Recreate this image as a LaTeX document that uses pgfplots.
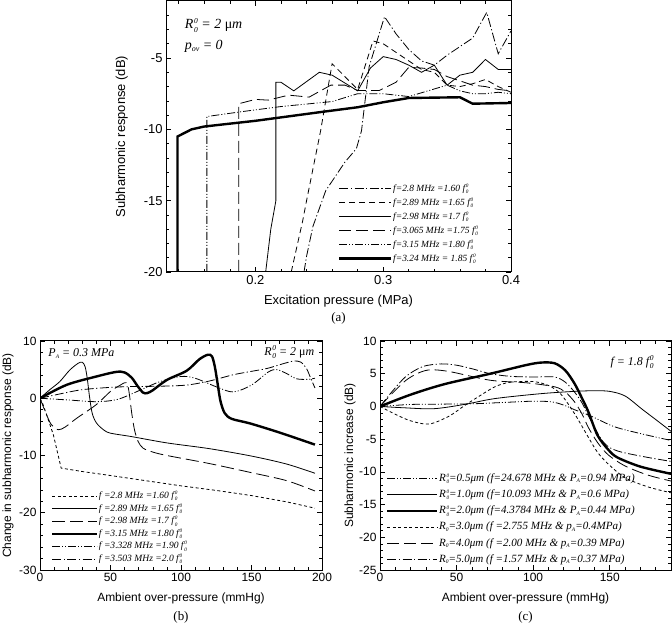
\documentclass[border=0pt]{standalone}
\usepackage{fontspec}
\setmainfont{Liberation Sans}
\newfontfamily\tnr{Liberation Serif}
\usepackage{pgfplots}
\pgfplotsset{compat=1.18}
\newcommand{\zz}{\fontsize{5.2}{6}\selectfont 0}
\newcommand{\fz}{f\kern0.8bp\rlap{\raisebox{4bp}{\zz}}\raisebox{-2.4bp}{\zz}}
\newcommand{\Rz}{R\kern0.8bp\rlap{\raisebox{4.2bp}{\zz}}\raisebox{-2.4bp}{\zz}}
\newcommand{\sub}[1]{\raisebox{-1.5bp}{\fontsize{5.5}{6}\selectfont #1}}
\newcommand{\bigz}[1]{\kern0.8bp\rlap{\raisebox{#1}{\fontsize{7.5}{8}\selectfont 0}}\raisebox{-3.2bp}{\fontsize{7.5}{8}\selectfont 0}}
\tikzset{
 dd/.style={dash pattern=on 9bp off 2.5bp on 1.2bp off 2.5bp},
 sd/.style={dash pattern=on 6bp off 4bp},
 ld/.style={dash pattern=on 12bp off 5bp},
 ddd/.style={dash pattern=on 8bp off 2bp on 1bp off 2bp on 1bp off 2bp},
 dt/.style={dash pattern=on 3bp off 2.5bp},
 thin line/.style={black, line width=0.8bp},
 thick line/.style={black, line width=2.4bp},
}
\pgfplotsset{
 myaxis/.style={
  scale only axis,
  anchor=south west,
  tick align=inside,
  axis line style={line width=1bp},
  every tick/.style={black, line width=0.6bp},
  major tick length=5bp, minor tick length=3bp,
  /pgf/number format/assume math mode=true,
  legend cell align=left,
 },
}
\begin{document}
\begin{tikzpicture}
\useasboundingbox (0,0) rectangle (672bp,626bp);
% ---------------- (a)
\begin{axis}[myaxis,
 at={(166bp,354bp)}, width=345bp, height=271bp,
 xmin=0.13, xmax=0.4, ymin=-20, ymax=-1,
 xtick={0.2,0.3,0.4},
 minor xtick={0.14,0.16,0.18,0.22,0.24,0.26,0.28,0.32,0.34,0.36,0.38},
 ytick={-20,-15,-10,-5},
 minor ytick={-19,-18,-17,-16,-14,-13,-12,-11,-9,-8,-7,-6,-4,-3,-2},
 ticklabel style={font=\fontsize{13}{15}\selectfont},
 label style={font=\fontsize{13}{15}\selectfont},
 xlabel={Excitation pressure (MPa)},
 ylabel={Subharmonic response (dB)},
 xlabel style={at={(axis description cs:0.5,-0.107)}, anchor=center},
 ylabel style={at={(axis description cs:-0.128,0.5)}, anchor=center},
 legend image code/.code={\draw[#1] (0bp,0bp) -- (52bp,0bp);},
 legend style={draw=none, fill=none, at={(0.49,0.335)}, anchor=north west,
   font=\tnr\itshape\fontsize{9.5}{11}\selectfont, row sep=3.8bp,
   nodes={inner sep=0.6bp, text height=7bp, text depth=2bp}},
]
\addplot[thin line, dd] coordinates {(0.238,-20)(0.240,-18.9)(0.245,-16.8)(0.255,-14.3)(0.27,-12.3)(0.279,-11.35)(0.283,-10.1)(0.289,-5.6)(0.301,-2.1)(0.31,-3.3)(0.32,-4.4)(0.33,-5.2)(0.34,-5.5)(0.35,-4.8)(0.36,-4.2)(0.37,-3.6)(0.381,-1.8)(0.39,-4.7)(0.40,-3.1)};
\addlegendentry{f=2.8 MHz =1.60 \fz}
\addplot[thin line, sd] coordinates {(0.228,-20)(0.237,-16.4)(0.240,-15)(0.251,-10.1)(0.255,-8.0)(0.26,-5.4)(0.28,-7.2)(0.292,-3.8)(0.30,-4.0)(0.32,-5.2)(0.33,-5.8)(0.34,-6.0)(0.35,-6.9)(0.36,-7.0)(0.37,-6.8)(0.38,-6.5)(0.39,-7.0)(0.40,-7.4)};
\addlegendentry{f=2.89 MHz =1.65 \fz}
\addplot[thin line] coordinates {(0.208,-20)(0.212,-17)(0.216,-15)(0.216,-6.7)(0.22,-6.7)(0.23,-7.3)(0.25,-6.0)(0.26,-6.2)(0.28,-7.3)(0.29,-5.7)(0.30,-4.9)(0.31,-5.1)(0.32,-5.5)(0.33,-6.0)(0.34,-5.5)(0.35,-6.9)(0.36,-6.2)(0.37,-6.0)(0.38,-5.1)(0.39,-5.8)(0.40,-5.8)};
\addlegendentry{f=2.98 MHz =1.7 \fz}
\addplot[thin line, ld] coordinates {(0.187,-20)(0.187,-8.2)(0.20,-7.9)(0.21,-7.95)(0.226,-7.6)(0.242,-7.74)(0.259,-6.9)(0.27,-6.9)(0.28,-7.27)(0.297,-7.27)(0.31,-6.7)(0.32,-5.65)(0.33,-5.7)(0.34,-5.8)(0.35,-6.3)(0.36,-6.6)(0.37,-6.9)(0.38,-7.0)(0.39,-7.2)(0.40,-7.3)};
\addlegendentry{f=3.065 MHz =1.75 \fz}
\addplot[thin line, ddd] coordinates {(0.162,-20)(0.162,-9.1)(0.19,-8.75)(0.22,-8.4)(0.26,-8.05)(0.28,-7.5)(0.30,-7.5)(0.32,-7.7)(0.35,-6.9)(0.36,-7.3)(0.37,-7.5)(0.38,-7.5)(0.39,-7.4)(0.40,-7.5)};
\addlegendentry{f=3.15 MHz =1.80 \fz}
\addplot[thick line] coordinates {(0.139,-20)(0.139,-10.5)(0.15,-10.0)(0.16,-9.8)(0.20,-9.4)(0.25,-8.8)(0.28,-8.45)(0.30,-8.1)(0.32,-7.8)(0.36,-7.75)(0.37,-8.2)(0.40,-8.15)};
\addlegendentry{f=3.24 MHz = 1.85 \fz}
\node[anchor=west, font=\tnr\itshape\fontsize{14}{16}\selectfont] at (axis cs:0.142,-2.7) {R\bigz{5.8bp} = 2 {\upshape μ}m};
\node[anchor=west, font=\tnr\itshape\fontsize{14}{16}\selectfont] at (axis cs:0.142,-4.15) {p\raisebox{-2.5bp}{\fontsize{8}{9}\selectfont ov} = 0};
\end{axis}
\node[font=\tnr\fontsize{13}{15}\selectfont] at (338.5bp,308bp) {(a)};
% ---------------- (b)
\begin{axis}[myaxis,
 at={(40bp,56bp)}, width=282bp, height=229bp,
 xmin=0, xmax=200, ymin=-30, ymax=10,
 xtick={0,50,100,150,200},
 minor xtick={10,20,...,190},
 ytick={-30,-20,-10,0,10},
 minor ytick={-28,-26,...,8},
 ticklabel style={font=\fontsize{12}{14}\selectfont},
 label style={font=\fontsize{12}{14}\selectfont},
 xlabel={Ambient over-pressure (mmHg)},
 ylabel={Change in subharmonic response (dB)},
 xlabel style={at={(axis description cs:0.5,-0.122)}, anchor=center},
 ylabel style={at={(axis description cs:-0.1135,0.5)}, anchor=center},
 legend image code/.code={\draw[#1] (0bp,0bp) -- (45bp,0bp);},
 legend style={draw=none, fill=none, at={(0.028,0.354)}, anchor=north west,
   font=\tnr\itshape\fontsize{9.6}{10}\selectfont, row sep=3bp,
   nodes={inner sep=0.5bp, text height=6.8bp, text depth=1.8bp}},
]
\addplot[thin line, dt] coordinates {(0,0)(2,-1)(4.7,-2.9)(9.5,-6.4)(15,-12.2)(30,-12.8)(50,-13.5)(75,-14.4)(100,-15.3)(125,-16.1)(150,-17.0)(175,-18.1)(195,-19.2)};
\addlegendentry{f =2.8 MHz =1.60 \fz}
\addplot[thin line, smooth, tension=0.5] coordinates {(0,0)(7,1.5)(14,2.9)(21,4.9)(27,6.1)(30,6.3)(32,5.5)(33.5,3.5)(35,0.5)(37,-2.6)(40,-4.3)(45,-5.5)(50,-6.1)(65,-6.7)(90,-7.8)(120,-8.8)(150,-10.1)(175,-11.5)(195,-13.1)};
\addlegendentry{f =2.89 MHz =1.65 \fz}
\addplot[thin line, dash pattern=on 13bp off 5bp, smooth, tension=0.5] coordinates {(0,0)(4,-2.5)(8,-4.6)(13,-5.5)(18,-5.0)(26,-3.5)(40,-1.1)(50,1.2)(57,2.3)(60,2.7)(62,2.5)(63.5,0.5)(65,-2.5)(67,-5.5)(69.5,-7.5)(73,-8.7)(80,-9.4)(90,-10)(120,-11.4)(150,-13)(175,-14.4)(195,-16.2)};
\addlegendentry{f =2.98 MHz =1.7 \fz}
\addplot[thick line, smooth, tension=0.5] coordinates {(0,0)(19,2.35)(40,3.8)(54,4.6)(60,4.5)(65,3.6)(69,2.2)(73,1.0)(76,0.9)(80,1.4)(90,3.2)(104,4.8)(113,6.8)(119,7.6)(122,7.3)(124,5.5)(126,2.5)(128,-0.5)(131,-2.6)(136,-3.6)(149,-4.4)(170,-6.0)(195,-8.1)};
\addlegendentry{f =3.15 MHz =1.80 \fz}
\addplot[thin line, ddd, smooth, tension=0.5] coordinates {(0,0)(20,-0.3)(40,-0.6)(55,-0.2)(70,1.3)(85,2.9)(100,3.8)(110,3.5)(125,2.0)(137,1.1)(150,2.3)(162,4.6)(168,5.0)(175,4.3)(182,3.4)(190,3.3)(195,3.5)};
\addlegendentry{f =3.328 MHz =1.90 \fz}
\addplot[thin line, dd, smooth, tension=0.5] coordinates {(0,0)(15,0.8)(30,1.5)(50,1.9)(66,2.05)(85,2.1)(104,2.3)(120,3.0)(137,4.1)(150,4.7)(161,5.2)(172,6.0)(180,6.5)(185,6.3)(189,5.2)(192,3.5)(195,1.8)};
\addlegendentry{f =3.503 MHz =2.0 \fz}
\node[anchor=west, font=\tnr\itshape\fontsize{12}{14}\selectfont] at (axis cs:3.5,7.8) {P\sub{A} = 0.3 MPa};
\node[anchor=east, font=\tnr\itshape\fontsize{12}{14}\selectfont] at (axis cs:197,8.1) {R\bigz{5.2bp} = 2 {\upshape μ}m};
\end{axis}
\node[font=\tnr\fontsize{13}{15}\selectfont] at (181bp,9bp) {(b)};
% ---------------- (c)
\begin{axis}[myaxis,
 at={(380bp,56bp)}, width=291bp, height=229bp,
 xmin=0, xmax=190, ymin=-25, ymax=10,
 xtick={0,50,100,150},
 minor xtick={10,20,...,190},
 ytick={-25,-20,...,10},
 minor ytick={-24,-23,...,9},
 ticklabel style={font=\fontsize{12}{14}\selectfont},
 label style={font=\fontsize{12}{14}\selectfont},
 xlabel={Ambient over-pressure (mmHg)},
 ylabel={Subharmonic increase (dB)},
 xlabel style={at={(axis description cs:0.5,-0.122)}, anchor=center},
 ylabel style={at={(axis description cs:-0.103,0.5)}, anchor=center},
 legend image code/.code={\draw[#1] (0bp,0bp) -- (50bp,0bp);},
 legend style={draw=none, fill=none, at={(0.01,0.432)}, anchor=north west,
   font=\tnr\itshape\fontsize{11.1}{12}\selectfont, row sep=5.4bp,
   nodes={inner sep=0.6bp, text height=7.5bp, text depth=2.1bp}},
]
\addplot[thin line, ddd, smooth, tension=0.5] coordinates {(0,0)(20,0.3)(40,0.35)(60,0.4)(80,0.6)(100,0.8)(112,0.7)(120,0.2)(127,-0.5)(138,-1.5)(153,-3.1)(171,-4.2)(190,-5.2)};
\addlegendentry{\Rz=0.5μm (f=24.678 MHz \& P\sub{A}=0.94 MPa)}
\addplot[thin line, smooth, tension=0.5] coordinates {(0,0)(15,-0.2)(35,-0.35)(55,0.3)(75,1.2)(105,1.95)(127,2.3)(140,2.4)(150,2.3)(160,1.6)(171,-0.4)(180,-2)(190,-3.8)};
\addlegendentry{\Rz=1.0μm (f=10.093 MHz \& P\sub{A}=0.6 MPa)}
\addplot[thick line, smooth, tension=0.5] coordinates {(0,0)(20,1.8)(42,3.4)(72,5.0)(95,6.3)(105,6.7)(114,6.6)(121,5.5)(127,3.5)(132,1.2)(136,-0.8)(142,-4.4)(149,-6.6)(155,-7.8)(170,-9.2)(190,-10.3)};
\addlegendentry{\Rz=2.0μm (f=4.3784 MHz \& P\sub{A}=0.44 MPa)}
\addplot[thin line, dt, smooth, tension=0.5] coordinates {(0,0)(10,-1.2)(20,-2.2)(32,-2.7)(45,-1.5)(55,0.1)(65,1.6)(75,3.0)(85,3.7)(100,3.8)(110,3.2)(118,1.9)(127,-1.1)(136,-4.7)(142,-7.0)(149,-8.8)(160,-10.9)(175,-12.3)(190,-13.2)};
\addlegendentry{R\sub{0}=3.0μm (f =2.755 MHz \& p\sub{A}=0.4MPa)}
\addplot[thin line, ld, smooth, tension=0.5] coordinates {(0,0)(8,2)(17,4)(25,5.1)(33,5.6)(46,5.3)(72,4.0)(96,3.6)(114,3.0)(121,2.2)(127,0.7)(132,-1.2)(136,-3.2)(142,-5.5)(149,-7.4)(160,-9.1)(175,-10.5)(190,-11.4)};
\addlegendentry{R\sub{0}=4.0μm (f =2.00 MHz \& p\sub{A}=0.39 MPa)}
\addplot[thin line, dd, smooth, tension=0.5] coordinates {(0,0)(8,2.3)(17,4.6)(28,6.1)(40,6.5)(50,6.3)(61,5.7)(72,5.0)(85,4.6)(100,4.5)(114,4.5)(121,3.7)(127,2.2)(132,0.5)(136,-1.4)(141,-3.6)(145,-5.2)(150,-6.3)(158,-7.0)(175,-7.8)(190,-8.4)};
\addlegendentry{R\sub{0}=5.0μm (f =1.57 MHz \& p\sub{A}=0.37 MPa)}
\node[anchor=east, font=\tnr\itshape\fontsize{12}{14}\selectfont] at (axis cs:181,6.8) {f = 1.8 f\bigz{5.2bp}};
\end{axis}
\node[font=\tnr\fontsize{13}{15}\selectfont] at (525.5bp,9bp) {(c)};
\end{tikzpicture}
\end{document}
